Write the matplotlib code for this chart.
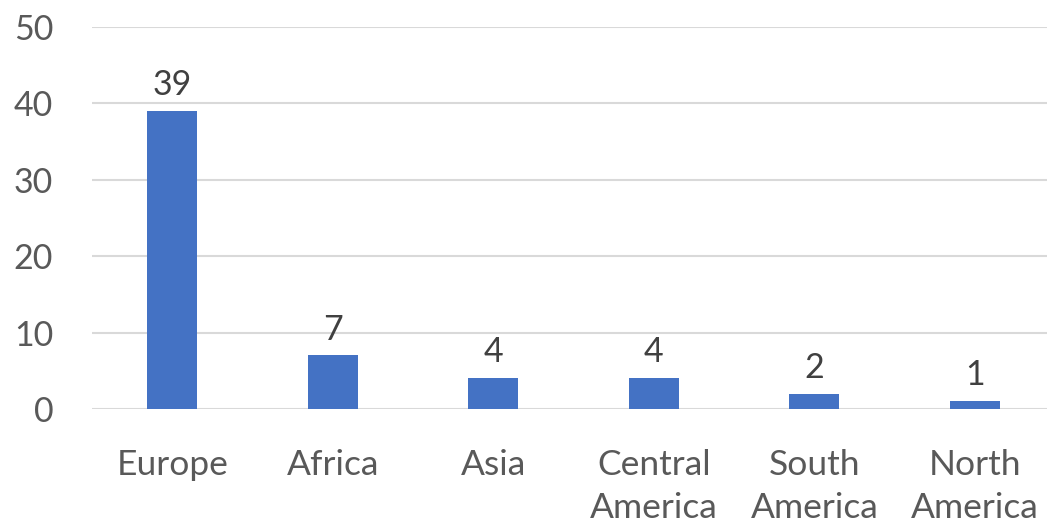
import matplotlib.pyplot as plt

regions = ["Europe", "Africa", "Asia", "Central\nAmerica", "South\nAmerica", "North\nAmerica"]
counts = [39, 7, 4, 4, 2, 1]
y_ticks = [0, 10, 20, 30, 40, 50]

plt.rcParams['font.family'] = ['Lato', 'DejaVu Sans']

fig = plt.figure(figsize=(10.47, 5.25), dpi=100)
ax = fig.add_axes([0.0879, 0.221, 0.9121, 0.7276])

x = range(len(regions))
bars = ax.bar(x, counts, width=0.31, color="#4472c4", zorder=3)

for bar, v in zip(bars, counts):
    ax.text(bar.get_x() + bar.get_width() / 2, v + 1.3, str(v),
            ha='center', va='bottom', fontsize=24.5, color="#404040")

ax.set_ylim(0, 50)
ax.set_xlim(-0.5, 5.45)
ax.set_yticks(y_ticks)
ax.set_yticklabels([str(t) for t in y_ticks], fontsize=24.5, color="#595959")
ax.set_xticks(list(x))
ax.set_xticklabels(regions, fontsize=25.5, color="#595959", linespacing=1.4)
ax.yaxis.grid(True, color="#d9d9d9", linewidth=1.5, zorder=0)
ax.tick_params(axis='both', length=0)
ax.tick_params(axis='x', pad=29)
ax.tick_params(axis='y', pad=28)
for s in ax.spines.values():
    s.set_visible(False)

fig.savefig("out.png", dpi=100)
plt.close()
